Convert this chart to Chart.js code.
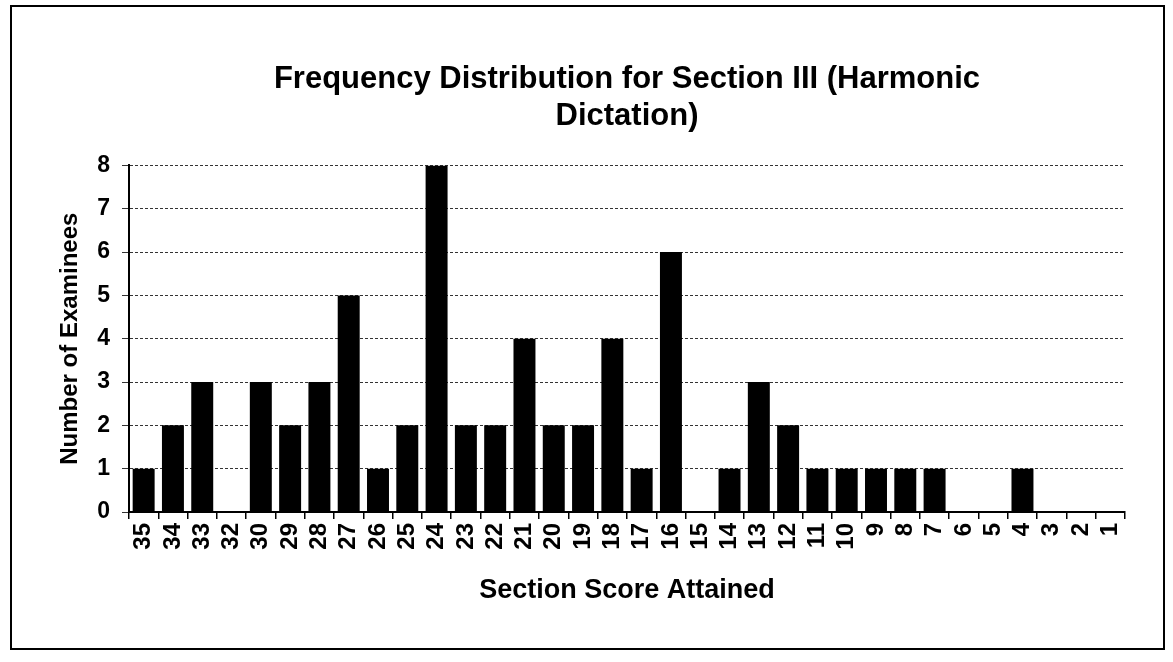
<!DOCTYPE html>
<html>
<head>
<meta charset="utf-8">
<script src="https://cdn.jsdelivr.net/npm/chart.js"></script>
<style>
  html, body { margin: 0; padding: 0; background: #fff; }
  #frame {
    position: absolute; left: 10px; top: 5px;
    width: 1151px; height: 641px;
    border: 2px solid #000;
  }
</style>
</head>
<body>
<div id="frame"><canvas id="freqChart"></canvas></div>
<script>
// section scores (x axis, high to low - note there is no 31)
const scores = ['35', '34', '33', '32', '30', '29', '28', '27', '26', '25', '24', '23', '22', '21', '20', '19', '18',
  '17', '16', '15', '14', '13', '12', '11', '10', '9', '8', '7', '6', '5', '4', '3', '2', '1'];
// number of examinees for each score
const examinees = [1, 2, 3, 0, 3, 2, 3, 5, 1, 2, 8, 2, 2, 4, 2, 2, 4,
  1, 6, 0, 1, 3, 2, 1, 1, 1, 1, 1, 0, 0, 1, 0, 0, 0];
const yTicks = [0, 1, 2, 3, 4, 5, 6, 7, 8];

const titleLines = ['Frequency Distribution for Section III (Harmonic', 'Dictation)'];
const font = 'Liberation Sans, Arial, sans-serif';

const ctx = document.getElementById('freqChart');

var freqChart = new Chart(ctx, {
  type: 'bar',
  data: {
    labels: scores,
    datasets: [
      {
        data: examinees,
        backgroundColor: '#000',
        barPercentage: 0.75,
        categoryPercentage: 1
      }
    ]
  },
  options: {
    animation: false,
    responsive: true,
    maintainAspectRatio: false,
    layout: {
      padding: { left: 0, right: 38, top: 0, bottom: 0 }
    },
    plugins: {
      legend: { display: false },
      tooltip: { enabled: false },
      title: {
        display: true,
        fullSize: false, // centre over the plot, not the whole canvas
        text: titleLines,
        color: '#000',
        font: { family: font, size: 31, weight: 'bold', lineHeight: 1.2 },
        padding: { top: 54, bottom: 30 }
      }
    },
    scales: {
      x: {
        afterFit: function (scale) { scale.height = 136; },
        grid: {
          drawOnChartArea: false,
          tickLength: 7,
          color: '#000',
          lineWidth: 1.5
        },
        border: { color: '#000', width: 2 },
        ticks: {
          color: '#000',
          autoSkip: false,
          maxRotation: 90,
          minRotation: 90,
          padding: 4,
          font: { family: font, size: 24, weight: 'bold' }
        },
        title: {
          display: true,
          text: 'Section Score Attained',
          color: '#000',
          font: { family: font, size: 27, weight: 'bold' },
          padding: 41
        }
      },
      y: {
        min: 0,
        max: 8,
        afterFit: function (scale) { scale.width = 117; },
        afterBuildTicks: function (scale) {
          scale.ticks = yTicks.map(v => ({ value: v }));
        },
        grid: {
          color: '#333',
          lineWidth: 1,
          tickLength: 7
        },
        border: { color: '#000', width: 2, dash: [3, 2] },
        ticks: {
          color: '#000',
          padding: 12,
          font: { family: font, size: 23, weight: 'bold' }
        },
        title: {
          display: true,
          text: 'Number of Examinees',
          color: '#000',
          font: { family: font, size: 24, weight: 'bold' },
          padding: 44
        }
      }
    }
  }
});
</script>
</body>
</html>
